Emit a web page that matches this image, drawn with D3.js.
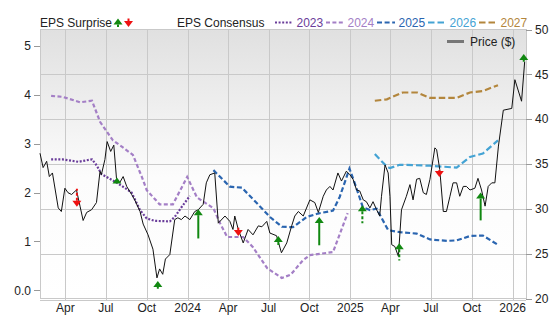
<!DOCTYPE html>
<html>
<head>
<meta charset="utf-8">
<script src="https://cdn.jsdelivr.net/npm/d3@7"></script>
<style>
  body { margin: 0; background: #fff; }
  svg { display: block; font-family: "Liberation Sans", Arial, sans-serif; }
</style>
</head>
<body>
<div id="chart"></div>
<script>
// Price ($), right axis
const price = [
  ['2023-02-03', 36.2], ['2023-02-10', 34.6], ['2023-02-18', 35.3], ['2023-02-24', 33.6],
  ['2023-03-03', 34.0], ['2023-03-16', 30.1], ['2023-03-23', 29.7], ['2023-03-31', 32.3],
  ['2023-04-07', 31.8], ['2023-04-15', 31.6], ['2023-04-26', 32.1], ['2023-05-04', 30.3],
  ['2023-05-11', 28.7], ['2023-05-19', 29.6], ['2023-05-30', 29.9], ['2023-06-10', 30.7],
  ['2023-06-18', 34.2], ['2023-06-21', 33.8], ['2023-06-29', 35.5], ['2023-07-04', 37.5],
  ['2023-07-12', 36.4], ['2023-07-19', 37.1], ['2023-07-25', 33.4], ['2023-08-01', 32.9],
  ['2023-08-09', 33.6], ['2023-08-17', 32.5], ['2023-08-28', 31.6], ['2023-09-04', 31.0],
  ['2023-09-16', 29.7], ['2023-09-23', 28.3], ['2023-10-04', 27.1], ['2023-10-15', 25.5],
  ['2023-10-24', 22.3], ['2023-10-30', 23.3], ['2023-11-06', 22.7], ['2023-11-12', 24.4],
  ['2023-11-22', 24.9], ['2023-12-03', 28.8], ['2023-12-10', 29.0], ['2023-12-18', 28.8],
  ['2023-12-26', 29.2], ['2024-01-06', 28.8], ['2024-01-17', 29.7], ['2024-01-25', 29.9],
  ['2024-02-05', 30.5], ['2024-02-12', 32.9], ['2024-02-20', 33.8], ['2024-03-02', 34.0],
  ['2024-03-10', 28.4], ['2024-03-25', 29.2], ['2024-04-05', 28.6], ['2024-04-12', 27.7],
  ['2024-04-16', 29.2], ['2024-04-24', 27.7], ['2024-05-05', 26.2], ['2024-05-16', 27.7],
  ['2024-05-27', 27.1], ['2024-06-08', 28.1], ['2024-06-16', 28.0], ['2024-06-27', 28.6],
  ['2024-07-04', 27.3], ['2024-07-19', 27.0], ['2024-07-30', 25.1], ['2024-08-11', 26.2],
  ['2024-08-22', 28.1], ['2024-08-29', 29.2], ['2024-09-06', 29.7], ['2024-09-17', 29.2],
  ['2024-10-02', 31.0], ['2024-10-13', 30.7], ['2024-10-21', 29.6], ['2024-11-01', 31.4],
  ['2024-11-08', 32.1], ['2024-11-16', 32.5], ['2024-11-23', 32.1], ['2024-12-04', 34.0],
  ['2024-12-12', 33.1], ['2024-12-23', 34.2], ['2024-12-31', 33.8], ['2025-01-07', 33.3],
  ['2025-01-15', 32.1], ['2025-01-22', 32.0], ['2025-01-30', 31.0], ['2025-02-06', 30.8],
  ['2025-02-14', 30.1], ['2025-02-21', 30.8], ['2025-03-01', 29.9], ['2025-03-08', 29.2],
  ['2025-03-12', 31.4], ['2025-03-20', 34.9], ['2025-03-27', 34.0], ['2025-03-31', 31.4],
  ['2025-04-04', 26.0], ['2025-04-11', 25.8], ['2025-04-19', 24.7], ['2025-04-26', 29.9],
  ['2025-05-07', 31.4], ['2025-05-15', 32.7], ['2025-05-22', 31.0], ['2025-05-30', 33.3],
  ['2025-06-06', 33.4], ['2025-06-14', 31.8], ['2025-06-21', 31.6], ['2025-06-29', 33.3],
  ['2025-07-10', 36.8], ['2025-07-14', 36.6], ['2025-07-21', 34.4],
  ['2025-07-29', 29.7], ['2025-08-05', 29.7], ['2025-08-13', 31.4], ['2025-08-20', 32.9],
  ['2025-08-28', 32.9], ['2025-09-04', 31.4], ['2025-09-12', 32.5], ['2025-09-19', 32.5],
  ['2025-09-27', 32.1], ['2025-10-08', 32.3], ['2025-10-15', 33.4], ['2025-10-23', 32.1],
  ['2025-10-31', 30.3], ['2025-11-07', 32.5], ['2025-11-15', 32.9], ['2025-11-22', 32.9],
  ['2025-11-30', 37.0], ['2025-12-11', 41.0], ['2025-12-30', 41.2], ['2026-01-06', 44.4],
  ['2026-01-21', 42.0], ['2026-01-28', 46.4]
]

// EPS consensus by fiscal year, left axis
const eps2023 = [
  ['2023-02-28', 2.68], ['2023-03-26', 2.68], ['2023-04-30', 2.63], ['2023-05-31', 2.68],
  ['2023-06-11', 2.55], ['2023-06-21', 2.38], ['2023-07-26', 2.20], ['2023-08-17', 2.07],
  ['2023-08-28', 2.00], ['2023-09-16', 1.64], ['2023-10-01', 1.47], ['2023-10-19', 1.42],
  ['2023-11-22', 1.41], ['2023-12-03', 1.50], ['2023-12-19', 1.71], ['2024-01-06', 1.93]
]
const eps2024 = [
  ['2023-02-28', 3.98], ['2023-03-26', 3.96], ['2023-05-04', 3.85], ['2023-05-31', 3.88],
  ['2023-06-18', 3.45], ['2023-07-17', 3.07], ['2023-08-06', 2.94], ['2023-08-31', 2.77],
  ['2023-09-20', 2.32], ['2023-10-01', 2.05], ['2023-10-30', 1.76], ['2023-11-29', 1.76],
  ['2023-12-31', 2.32], ['2024-01-22', 1.90], ['2024-02-28', 1.68], ['2024-03-14', 1.37],
  ['2024-03-30', 1.09], ['2024-05-05', 1.09], ['2024-05-27', 0.88], ['2024-06-28', 0.45],
  ['2024-07-31', 0.25], ['2024-08-20', 0.32], ['2024-09-16', 0.61], ['2024-10-02', 0.72],
  ['2024-11-23', 0.78], ['2024-12-26', 1.58]
]
const eps2025 = [
  ['2024-02-28', 2.46], ['2024-04-05', 2.12], ['2024-05-02', 2.10], ['2024-06-05', 1.78],
  ['2024-07-04', 1.50], ['2024-07-31', 1.30], ['2024-08-25', 1.29], ['2024-09-25', 1.50],
  ['2024-10-20', 1.57], ['2024-11-23', 1.63], ['2024-12-08', 1.91], ['2024-12-30', 2.49],
  ['2025-01-14', 2.11], ['2025-01-29', 1.70], ['2025-02-14', 1.64], ['2025-03-01', 1.67],
  ['2025-03-27', 1.23], ['2025-04-22', 1.19], ['2025-05-30', 1.16], ['2025-06-29', 1.04],
  ['2025-08-06', 1.01], ['2025-08-28', 1.02], ['2025-09-27', 1.11], ['2025-10-26', 1.12],
  ['2025-11-27', 0.94]
]
const eps2026 = [
  ['2025-02-25', 2.79], ['2025-03-24', 2.53], ['2025-03-31', 2.50], ['2025-04-22', 2.57],
  ['2025-06-29', 2.55], ['2025-08-28', 2.51], ['2025-09-27', 2.73], ['2025-10-26', 2.80],
  ['2025-11-29', 3.07]
]
const eps2027 = [
  ['2025-02-25', 3.88], ['2025-03-24', 3.91], ['2025-04-29', 4.05], ['2025-05-31', 4.05],
  ['2025-06-29', 3.94], ['2025-08-28', 3.94], ['2025-09-27', 4.05], ['2025-10-26', 4.08],
  ['2025-11-29', 4.20]
]

// EPS surprises: date, consensus, actual, dashed stem
const surprises = [
  ['2023-04-27', 2.08, 1.71, true],
  ['2023-07-26', 2.19, 2.31, false],
  ['2023-10-26', 0.03, 0.19, true],
  ['2024-01-25', 1.06, 1.66, false],
  ['2024-04-24', 1.28, 1.11, false],
  ['2024-07-23', 0.92, 1.11, true],
  ['2024-10-23', 0.92, 1.50, false],
  ['2025-01-28', 1.37, 1.74, true],
  ['2025-04-21', 0.61, 0.96, true],
  ['2025-07-20', 2.46, 2.32, false],
  ['2025-10-21', 1.43, 2.00, false],
  ['2026-01-26', 4.68, 4.84, false]
]

const leftTicks = [0, 1, 2, 3, 4, 5]
const rightTicks = [20, 25, 30, 35, 40, 45, 50]

const consensus = [
  { name: '2023', data: eps2023, color: '#6a3d9a', dash: '2,1.6', lx: 275 },
  { name: '2024', data: eps2024, color: '#a47fc6', dash: '4,2.4', lx: 326 },
  { name: '2025', data: eps2025, color: '#2a65b0', dash: '5,2.6', lx: 377 },
  { name: '2026', data: eps2026, color: '#44a3d4', dash: '6.5,3', lx: 428 },
  { name: '2027', data: eps2027, color: '#b3863c', dash: '6.5,3', lx: 479 }
]

const W = 556, H = 315
const plot = { left: 40, right: 526, top: 29.5, bottom: 298.5 }
const parse = d3.timeParse('%Y-%m-%d')
const GREEN = '#118811', RED = '#ee1111'

const svg = d3.select('#chart').append('svg')
  .attr('width', W)
  .attr('height', H)

const x = d3.scaleTime()
  .domain([parse('2023-02-03'), parse('2026-01-31')])
  .range([plot.left, plot.right])
const yR = d3.scaleLinear().domain([20, 50]).range([plot.bottom, plot.top])
const yL = d3.scaleLinear().domain([-0.17, 5.34]).range([plot.bottom, plot.top])

// Background gradient
const grad = svg.append('defs').append('linearGradient')
  .attr('id', 'bg').attr('x1', 0).attr('y1', 0).attr('x2', 0).attr('y2', 1)
grad.append('stop').attr('offset', '0%').attr('stop-color', '#e0e0e0')
grad.append('stop').attr('offset', '55%').attr('stop-color', '#fcfcfc')
grad.append('stop').attr('offset', '100%').attr('stop-color', '#ffffff')

svg.append('rect')
  .attr('x', plot.left).attr('y', plot.top)
  .attr('width', plot.right - plot.left).attr('height', plot.bottom - plot.top)
  .attr('fill', 'url(#bg)')

// Grid
const xTicks = x.ticks(d3.timeMonth.every(3))
const grid = svg.append('g').attr('stroke', '#c9c9c9').attr('stroke-width', 1)
grid.selectAll('.vg').data(xTicks).join('line')
  .attr('x1', d => Math.round(x(d)) + 0.5).attr('x2', d => Math.round(x(d)) + 0.5)
  .attr('y1', plot.top).attr('y2', plot.bottom + 2)
grid.selectAll('.hg').data(rightTicks.slice(1, -1)).join('line')
  .attr('x1', plot.left).attr('x2', plot.right)
  .attr('y1', d => Math.round(yR(d)) + 0.5).attr('y2', d => Math.round(yR(d)) + 0.5)

svg.append('rect')
  .attr('x', plot.left + 0.5).attr('y', plot.top)
  .attr('width', plot.right - plot.left).attr('height', plot.bottom - plot.top)
  .attr('fill', 'none').attr('stroke', '#c9c9c9')
svg.append('line')
  .attr('x1', plot.left).attr('x2', plot.right)
  .attr('y1', plot.bottom + 2).attr('y2', plot.bottom + 2)
  .attr('stroke', '#c9c9c9')

// X axis labels
const fmtX = d => d.getMonth() === 0 ? d3.timeFormat('%Y')(d) : d3.timeFormat('%b')(d)
svg.append('g').selectAll('text').data(xTicks).join('text')
  .attr('x', d => x(d)).attr('y', 312)
  .attr('text-anchor', 'middle')
  .attr('font-size', 12).attr('fill', '#222')
  .text(fmtX)

// Left axis
const la = svg.append('g')
la.selectAll('line').data(leftTicks).join('line')
  .attr('x1', 34).attr('x2', plot.left)
  .attr('y1', d => Math.round(yL(d)) + 0.5).attr('y2', d => Math.round(yL(d)) + 0.5)
  .attr('stroke', '#999')
la.selectAll('text').data(leftTicks).join('text')
  .attr('x', 31).attr('y', d => yL(d) + 4.3)
  .attr('text-anchor', 'end')
  .attr('font-size', 12).attr('fill', '#222')
  .text(d => d === 0 ? '0.0' : d)

// Right axis
const ra = svg.append('g')
ra.selectAll('line').data(rightTicks).join('line')
  .attr('x1', plot.right).attr('x2', plot.right + 6)
  .attr('y1', d => Math.round(yR(d)) + 0.5).attr('y2', d => Math.round(yR(d)) + 0.5)
  .attr('stroke', '#999')
ra.selectAll('text').data(rightTicks).join('text')
  .attr('x', 535).attr('y', d => yR(d) + 4.3)
  .attr('font-size', 12).attr('fill', '#222')
  .text(d => d)

// Consensus lines
const epsLine = d3.line().x(d => x(parse(d[0]))).y(d => yL(d[1]))
svg.append('g').selectAll('path').data(consensus).join('path')
  .attr('d', d => epsLine(d.data))
  .attr('fill', 'none')
  .attr('stroke', d => d.color)
  .attr('stroke-width', 2.2)
  .attr('stroke-dasharray', d => d.dash)

// Price line
const priceLine = d3.line().x(d => x(parse(d[0]))).y(d => yR(d[1]))
svg.append('path')
  .attr('d', priceLine(price))
  .attr('fill', 'none')
  .attr('stroke', '#111')
  .attr('stroke-width', 1)

// Surprise arrows
function drawArrow(g, cx, y0, y1, color, dashed) {
  const up = y1 < y0
  const s = up ? 1 : -1
  const headBase = y1 + s * 6
  if ((y0 - headBase) * s > 0) {
    g.append('line')
      .attr('x1', cx).attr('x2', cx)
      .attr('y1', headBase).attr('y2', y0)
      .attr('stroke', color).attr('stroke-width', 2)
      .attr('stroke-dasharray', dashed ? '3,2' : null)
  }
  g.append('path')
    .attr('d', `M${cx - 4.5},${headBase}L${cx},${y1}L${cx + 4.5},${headBase}Z`)
    .attr('fill', color)
}

const arrows = svg.append('g')
surprises.forEach(s => {
  const cx = x(parse(s[0]))
  const color = s[2] >= s[1] ? GREEN : RED
  drawArrow(arrows, cx, yL(s[1]), yL(s[2]), color, s[3])
})

// Legend
const legend = svg.append('g').attr('font-size', 12)
legend.append('text').attr('x', 40).attr('y', 27).attr('fill', '#222').text('EPS Surprise')
drawArrow(legend, 118, 27, 18.5, GREEN, false)
drawArrow(legend, 128.5, 18.5, 27, RED, false)
legend.append('text').attr('x', 177).attr('y', 27).attr('fill', '#222').text('EPS Consensus')

consensus.forEach(c => {
  legend.append('line')
    .attr('x1', c.lx).attr('x2', c.lx + 18)
    .attr('y1', 22.5).attr('y2', 22.5)
    .attr('stroke', c.color).attr('stroke-width', 2.2)
    .attr('stroke-dasharray', c.dash)
  legend.append('text')
    .attr('x', c.lx + 21.5).attr('y', 27)
    .attr('fill', c.color)
    .text(c.name)
})

legend.append('line')
  .attr('x1', 447).attr('x2', 464)
  .attr('y1', 41.5).attr('y2', 41.5)
  .attr('stroke', '#777').attr('stroke-width', 3)
legend.append('text').attr('x', 470).attr('y', 45.8).attr('fill', '#222').text('Price ($)')
</script>
</body>
</html>
